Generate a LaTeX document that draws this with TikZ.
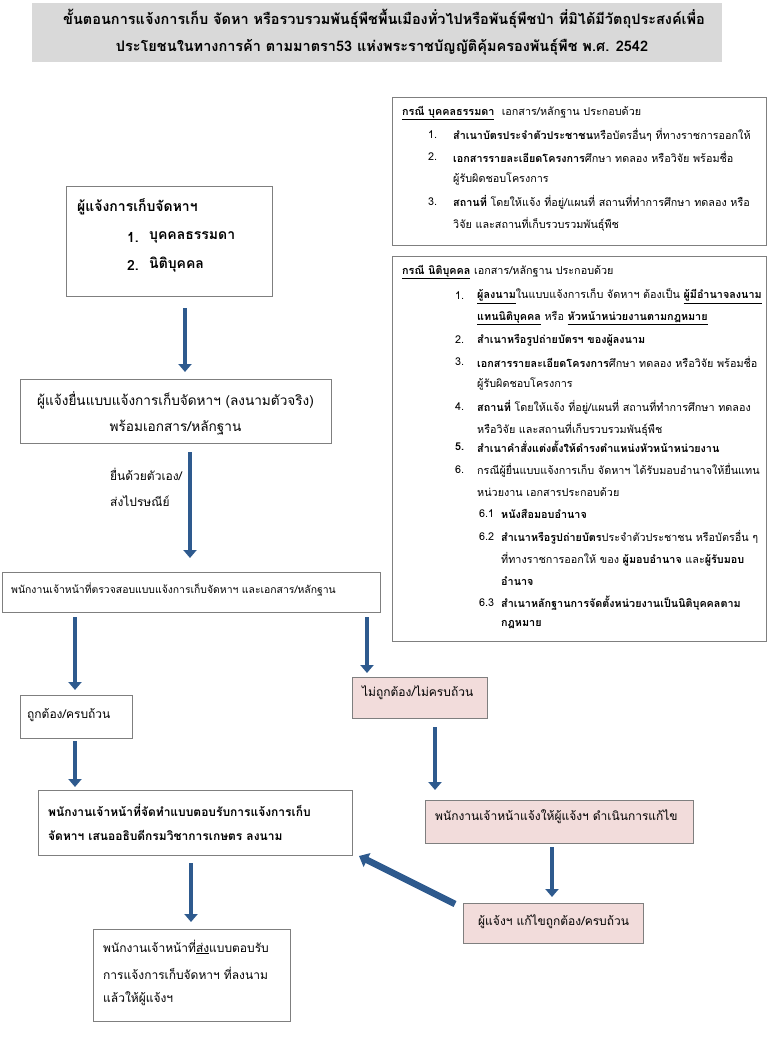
\documentclass[tikz,border=0pt]{standalone}
\usepackage{fontspec}
\setmainfont[Script=Thai]{Loma}
\usetikzlibrary{arrows.meta,calc}
\definecolor{arrowblue}{HTML}{2E5A8E}
\definecolor{pinkfill}{HTML}{F2DCDB}
\definecolor{boxline}{HTML}{7F7F7F}
\definecolor{titlegray}{HTML}{D9D9D9}
\tikzset{
  frame/.style={draw=boxline, line width=0.9pt, anchor=north west, inner sep=0pt, outer sep=0pt},
  pinkframe/.style={frame, fill=pinkfill},
  txt/.style={anchor=west, inner sep=0pt, font=\fontsize{10.8}{12}\selectfont},
  ctxt/.style={txt, font=\fontsize{10.4}{12}\selectfont},
  midtxt/.style={txt, font=\fontsize{12}{14}\selectfont},
  bigtxt/.style={txt, font=\fontsize{13.6}{16}\selectfont},
  atxt/.style={txt, font=\fontsize{14}{16}\selectfont\bfseries},
  ttl/.style={anchor=center, inner sep=0pt, font=\fontsize{14.5}{17}\selectfont\bfseries},
  arr/.style={draw=arrowblue, line width=4.5pt, -{Triangle[width=13pt,length=8pt]}},
  bigarr/.style={draw=arrowblue, line width=6.5pt, -{Triangle[width=15pt,length=9pt]}}
}
\begin{document}
\begin{tikzpicture}[x=1pt,y=-1pt]
\useasboundingbox[fill=white] (0,0) rectangle (768,1048);

% title
\node[frame, draw=none, fill=titlegray, minimum width=690, minimum height=59] (T) at (32,3) {};
\node[ttl] (T1) at (384,19) {ขั้นตอนการแจ้งการเก็บ จัดหา หรือรวบรวมพันธุ์พืชพื้นเมืองทั่วไปหรือพันธุ์พืชป่า ที่มิได้มีวัตถุประสงค์เพื่อ};
\node[ttl] (T2) at (382,47) {ประโยชนในทางการค้า ตามมาตรา53 แห่งพระราชบัญญัติคุ้มครองพันธุ์พืช พ.ศ. 2542};

% right box 1
\node[frame, minimum width=374, minimum height=148] (R1) at (392,97) {};
\node[txt] (R1h) at (402,113) {\underline{\textbf{กรณี บุคคลธรรมดา}}\ \ เอกสาร/หลักฐาน ประกอบด้วย};
\node[txt] (R1n1) at (428,135) {1.};
\node[txt] (R1t1) at (453,135) {\textbf{สำเนาบัตรประจำตัวประชาชน}หรือบัตรอื่นๆ ที่ทางราชการออกให้};
\node[txt] (R1n2) at (428,157) {2.};
\node[txt] (R1t2) at (453,157) {\textbf{เอกสารรายละเอียดโครงการ}ศึกษา ทดลอง หรือวิจัย พร้อมชื่อ};
\node[txt] (R1t2b) at (453,179) {ผู้รับผิดชอบโครงการ};
\node[txt] (R1n3) at (428,202) {3.};
\node[txt] (R1t3) at (453,202) {\textbf{สถานที่} โดยให้แจ้ง ที่อยู่/แผนที่ สถานที่ทำการศึกษา ทดลอง หรือ};
\node[txt] (R1t3b) at (453,224) {วิจัย และสถานที่เก็บรวบรวมพันธุ์พืช};

% right box 2
\node[frame, minimum width=374, minimum height=385] (R2) at (392,256) {};
\node[txt] (R2h) at (402,272) {\underline{\textbf{กรณี นิติบุคคล}} เอกสาร/หลักฐาน ประกอบด้วย};
\node[txt] (R2n1) at (455,296) {1.};
\node[txt] (R2t1) at (477,296) {\underline{\textbf{ผู้ลงนาม}}ในแบบแจ้งการเก็บ จัดหาฯ ต้องเป็น \underline{\textbf{ผู้มีอำนาจลงนาม}}};
\node[txt] (R2t1b) at (477,318) {\underline{\textbf{แทนนิติบุคคล}} หรือ \underline{\textbf{หัวหน้าหน่วยงานตามกฎหมาย}}};
\node[txt] (R2n2) at (455,340) {2.};
\node[txt] (R2t2) at (477,340) {\textbf{สำเนาหรือรูปถ่ายบัตรฯ ของผู้ลงนาม}};
\node[txt] (R2n3) at (455,362) {3.};
\node[txt] (R2t3) at (477,362) {\textbf{เอกสารรายละเอียดโครงการ}ศึกษา ทดลอง หรือวิจัย พร้อมชื่อ};
\node[txt] (R2t3b) at (477,384) {ผู้รับผิดชอบโครงการ};
\node[txt] (R2n4) at (455,407) {4.};
\node[txt] (R2t4) at (477,407) {\textbf{สถานที่} โดยให้แจ้ง ที่อยู่/แผนที่ สถานที่ทำการศึกษา ทดลอง};
\node[txt] (R2t4b) at (477,429) {หรือวิจัย และสถานที่เก็บรวบรวมพันธุ์พืช};
\node[txt] (R2n5) at (455,447) {\textbf{5.}};
\node[txt] (R2t5) at (477,447) {\textbf{สำเนาคำสั่งแต่งตั้งให้ดำรงตำแหน่งหัวหน้าหน่วยงาน}};
\node[txt] (R2n6) at (455,470) {6.};
\node[txt] (R2t6) at (477,470) {กรณีผู้ยื่นแบบแจ้งการเก็บ จัดหาฯ ได้รับมอบอำนาจให้ยื่นแทน};
\node[txt] (R2t6b) at (477,492) {หน่วยงาน เอกสารประกอบด้วย};
\node[txt] (R2n61) at (479,514) {6.1};
\node[txt] (R2t61) at (501,514) {\textbf{หนังสือมอบอำนาจ}};
\node[txt] (R2n62) at (479,537) {6.2};
\node[txt] (R2t62) at (501,537) {\textbf{สำเนาหรือรูปถ่ายบัตร}ประจำตัวประชาชน หรือบัตรอื่น ๆ};
\node[txt] (R2t62b) at (501,559) {ที่ทางราชการออกให้ ของ \textbf{ผู้มอบอำนาจ} และ\textbf{ผู้รับมอบ}};
\node[txt] (R2t62c) at (501,581) {\textbf{อำนาจ}};
\node[txt] (R2n63) at (479,603) {6.3};
\node[txt] (R2t63) at (501,603) {\textbf{สำเนาหลักฐานการจัดตั้งหน่วยงานเป็นนิติบุคคลตาม}};
\node[txt] (R2t63b) at (501,625) {\textbf{กฎหมาย}};

% left flow
\node[frame, minimum width=206, minimum height=110] (A) at (66,186) {};
\node[atxt] (A0) at (77,207) {ผู้แจ้งการเก็บจัดหาฯ};
\node[atxt] (A1n) at (127,237) {1.};
\node[atxt] (A1) at (149,237) {บุคคลธรรมดา};
\node[atxt] (A2n) at (127,265) {2.};
\node[atxt] (A2) at (149,265) {นิติบุคคล};

\node[frame, minimum width=311, minimum height=64] (B) at (20,379) {};
\node[bigtxt, anchor=center] (B1) at (175.5,400) {ผู้แจ้งยื่นแบบแจ้งการเก็บจัดหาฯ (ลงนามตัวจริง)};
\node[bigtxt, anchor=center] (B2) at (175.5,428) {พร้อมเอกสาร/หลักฐาน};

\node[midtxt] (L1) at (110,474) {ยื่นด้วยตัวเอง/};
\node[midtxt] (L2) at (110,501) {ส่งไปรษณีย์};

\node[frame, minimum width=378, minimum height=40] (C) at (2,572) {};
\node[ctxt] (C1) at (11,589) {พนักงานเจ้าหน้าที่ตรวจสอบแบบแจ้งการเก็บจัดหาฯ และเอกสาร/หลักฐาน};

\node[frame, minimum width=112, minimum height=43] (D) at (20,695) {};
\node[midtxt] (D1) at (27,715) {ถูกต้อง/ครบถ้วน};

\node[pinkframe, minimum width=135, minimum height=41] (E) at (352,677) {};
\node[midtxt] (E1) at (362,693) {ไม่ถูกต้อง/ไม่ครบถ้วน};

\node[frame, minimum width=314, minimum height=65] (F) at (38,790) {};
\node[midtxt] (F1) at (48,810) {\textbf{พนักงานเจ้าหน้าที่จัดทำแบบตอบรับการแจ้งการเก็บ}};
\node[midtxt] (F2) at (48,835) {\textbf{จัดหาฯ เสนออธิบดีกรมวิชาการเกษตร ลงนาม}};

\node[pinkframe, minimum width=268, minimum height=43] (G) at (425,800) {};
\node[midtxt] (G1) at (435,817) {พนักงานเจ้าหน้าแจ้งให้ผู้แจ้งฯ ดำเนินการแก้ไข};

\node[pinkframe, minimum width=180, minimum height=40] (H) at (463,903) {};
\node[midtxt] (H1) at (478,922) {ผู้แจ้งฯ แก้ไขถูกต้อง/ครบถ้วน};

\node[frame, minimum width=197, minimum height=92] (I) at (93,929) {};
\node[midtxt] (I1) at (103,947) {พนักงานเจ้าหน้าที่\underline{ส่ง}แบบตอบรับ};
\node[midtxt] (I2) at (103,973) {การแจ้งการเก็บจัดหาฯ ที่ลงนาม};
\node[midtxt] (I3) at (103,999) {แล้วให้ผู้แจ้งฯ};

% connectors
\draw[arr] ($(A.south west)+(119,12)$) -- ($(B.north west)+(165,-7)$);
\draw[arr] ($(B.south west)+(170,9)$) -- ($(C.north west)+(188,-14)$);
\draw[arr] ($(C.south west)+(73,5)$) -- ($(D.north west)+(55,-5)$);
\draw[arr] ($(C.south west)+(365,5)$) -- ($(E.north west)+(15,-4)$);
\draw[arr] ($(D.south west)+(55,3)$) -- ($(F.north west)+(37,-3)$);
\draw[arr] ($(E.south west)+(83,9)$) -- ($(G.north west)+(10,-10)$);
\draw[arr] ($(G.south west)+(127,4)$) -- ($(H.north west)+(89,-6)$);
\draw[bigarr] ($(H.north west)+(-8,1)$) -- ($(F.south east)+(7,1)$);
\draw[arr] ($(F.south west)+(153,8)$) -- ($(I.north west)+(98,-7)$);
\end{tikzpicture}
\end{document}
